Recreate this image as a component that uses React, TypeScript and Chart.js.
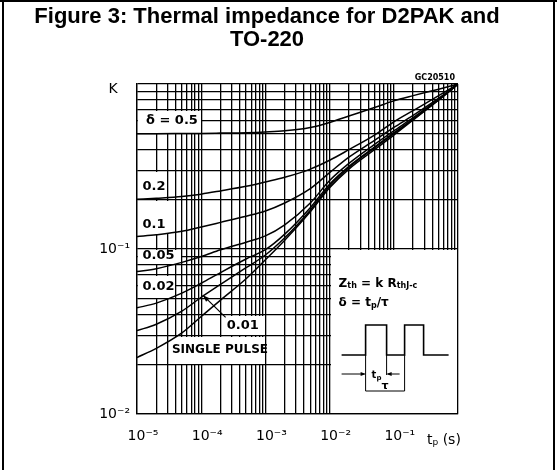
import React, { useEffect, useRef } from "react";
import { Chart, registerables } from "chart.js";

Chart.register(...registerables);

// ---- data ----
const tp = [1e-5, 2e-5, 5e-5, 1e-4, 2e-4, 5e-4, 1e-3, 2e-3, 5e-3, 1e-2, 2e-2, 5e-2, 1e-1, 2e-1, 5e-1, 1];
const kDelta05 = [0.5, 0.5, 0.501, 0.502, 0.504, 0.507, 0.512, 0.52, 0.545, 0.585, 0.64, 0.72, 0.79, 0.85, 0.93, 1];
const kDelta02 = [0.2, 0.203, 0.208, 0.215, 0.225, 0.24, 0.255, 0.272, 0.305, 0.345, 0.4, 0.49, 0.59, 0.69, 0.85, 1];
const kDelta01 = [0.119, 0.122, 0.128, 0.136, 0.145, 0.158, 0.17, 0.19, 0.232, 0.29, 0.36, 0.455, 0.545, 0.645, 0.82, 1];
const kDelta005 = [0.073, 0.076, 0.083, 0.09, 0.099, 0.11, 0.12, 0.14, 0.19, 0.26, 0.33, 0.43, 0.52, 0.625, 0.81, 1];
const kDelta002 = [0.044, 0.047, 0.054, 0.062, 0.072, 0.087, 0.099, 0.123, 0.178, 0.247, 0.317, 0.415, 0.505, 0.615, 0.805, 1];
const kDelta001 = [0.032, 0.035, 0.042, 0.051, 0.061, 0.077, 0.092, 0.117, 0.172, 0.241, 0.312, 0.41, 0.5, 0.61, 0.8, 1];
const kSingle = [0.022, 0.025, 0.031, 0.039, 0.049, 0.066, 0.086, 0.113, 0.168, 0.235, 0.305, 0.4, 0.49, 0.605, 0.8, 1];

const seriesNames = ["δ = 0.5", "0.2", "0.1", "0.05", "0.02", "0.01", "SINGLE PULSE"];
const seriesValues = [kDelta05, kDelta02, kDelta01, kDelta005, kDelta002, kDelta001, kSingle];

const xDecadeLabels = ["10⁻⁵", "10⁻⁴", "10⁻³", "10⁻²", "10⁻¹", ""];
const yDecadeLabels = ["10⁻²", "10⁻¹", ""];

const titleLines = ["Figure 3: Thermal impedance for D2PAK and", "TO-220"];

function logGrid(minExp: number, maxExp: number): number[] {
  const out: number[] = [];
  for (let e = minExp; e < maxExp; e++) {
    for (let m = 1; m <= 9; m++) out.push(m * Math.pow(10, e));
  }
  out.push(Math.pow(10, maxExp));
  return out;
}
const xGrid = logGrid(-5, 0);
const yGrid = logGrid(-2, 0);

function decadeIndex(v: number, minExp: number): number {
  const l = Math.log10(v);
  if (Math.abs(l - Math.round(l)) < 1e-6) return Math.round(l) - minExp;
  return -1;
}

const GRID_W = 1.3;

// ---- annotations (label boxes in data coords) ----
const labelBoxes = [
  { x0: 1e-5, x1: 1e-4, y0: 0.5, y1: 0.7 },
  { x0: 1e-5, x1: 3e-5, y0: 0.2, y1: 0.3 },
  { x0: 1e-5, x1: 4e-5, y0: 0.122, y1: 0.2 },
  { x0: 1e-5, x1: 5e-5, y0: 0.08, y1: 0.1 },
  { x0: 1e-5, x1: 4e-5, y0: 0.05, y1: 0.07 },
  { x0: 2e-4, x1: 1e-3, y0: 0.03, y1: 0.04 },
  { x0: 3e-5, x1: 1e-3, y0: 0.02, y1: 0.03 },
  { x0: 1e-2, x1: 1, y0: 0.01, y1: 0.1 },
];
const labelTexts = [
  { t: seriesNames[0], x: 1.38e-5, y: 0.6, f: 13 },
  { t: seriesNames[1], x: 1.22e-5, y: 0.24, f: 13 },
  { t: seriesNames[2], x: 1.22e-5, y: 0.14, f: 13 },
  { t: seriesNames[3], x: 1.22e-5, y: 0.0915, f: 13 },
  { t: seriesNames[4], x: 1.22e-5, y: 0.059, f: 13 },
  { t: seriesNames[5], x: 2.5e-4, y: 0.0345, f: 13 },
  { t: seriesNames[6], x: 3.5e-5, y: 0.0243, f: 12 },
];

function segText(ctx: CanvasRenderingContext2D, x: number, y: number, segs: [string, string, number][]) {
  let cx = x;
  for (const [t, f, dy] of segs) {
    ctx.font = f;
    ctx.fillText(t, cx, y + dy);
    cx += ctx.measureText(t).width;
  }
}

function arrowHead(ctx: CanvasRenderingContext2D, fx: number, fy: number, tx: number, ty: number, len: number, wid: number) {
  const a = Math.atan2(ty - fy, tx - fx);
  ctx.beginPath();
  ctx.moveTo(tx, ty);
  ctx.lineTo(tx - len * Math.cos(a) + wid * Math.sin(a), ty - len * Math.sin(a) - wid * Math.cos(a));
  ctx.lineTo(tx - len * Math.cos(a) - wid * Math.sin(a), ty - len * Math.sin(a) + wid * Math.cos(a));
  ctx.closePath();
  ctx.fill();
}

const annotPlugin = {
  id: "annot",
  beforeDatasetsDraw(chart: any) {
    const { ctx } = chart;
    const x = chart.scales.x;
    const y = chart.scales.y;
    const h = GRID_W / 2;
    ctx.save();
    ctx.fillStyle = "#fff";
    for (const b of labelBoxes) {
      const c1 = Math.round(x.getPixelForValue(b.x0) - h);
      const c2 = Math.round(x.getPixelForValue(b.x1) - h);
      const r1 = Math.round(y.getPixelForValue(b.y1) - h);
      const r2 = Math.round(y.getPixelForValue(b.y0) - h);
      ctx.fillRect(c1 + 2, r1 + 2, c2 - c1 - 2, r2 - r1 - 2);
    }
    ctx.restore();
  },
  afterDatasetsDraw(chart: any) {
    const { ctx } = chart;
    const x = chart.scales.x;
    const y = chart.scales.y;
    ctx.save();
    ctx.fillStyle = "#000";
    ctx.strokeStyle = "#000";
    ctx.textBaseline = "middle";
    ctx.textAlign = "left";
    for (const l of labelTexts) {
      ctx.font = `bold ${l.f}px "DejaVu Sans", sans-serif`;
      ctx.fillText(l.t, x.getPixelForValue(l.x), y.getPixelForValue(l.y));
    }
    // arrow to the 0.01 curve
    const ax0 = x.getPixelForValue(2.4e-4), ay0 = y.getPixelForValue(0.0385);
    const ax1 = x.getPixelForValue(1.06e-4), ay1 = y.getPixelForValue(0.0525);
    ctx.lineWidth = 1.2;
    ctx.beginPath();
    ctx.moveTo(ax0, ay0);
    ctx.lineTo(ax1, ay1);
    ctx.stroke();
    arrowHead(ctx, ax0, ay0, ax1, ay1, 7, 2.5);

    // inset
    const L = x.getPixelForValue(1e-2);
    const T = y.getPixelForValue(0.1);
    const SUB = 'bold 8px "DejaVu Sans", sans-serif';
    const MAIN = 'bold 12px "DejaVu Sans", sans-serif';
    ctx.textBaseline = "alphabetic";
    segText(ctx, L + 9, T + 38, [["Z", MAIN, 0], ["th", SUB, 1], [" = k R", MAIN, 0], ["thJ-c", SUB, 1]]);
    segText(ctx, L + 9, T + 57, [["δ = t", MAIN, 0], ["p", SUB, 2], ["/τ", MAIN, 0]]);
    ctx.lineWidth = 1.6;
    const base = T + 106, high = T + 76;
    ctx.beginPath();
    ctx.moveTo(L + 12, base);
    ctx.lineTo(L + 36, base);
    ctx.lineTo(L + 36, high);
    ctx.lineTo(L + 57, high);
    ctx.lineTo(L + 57, base);
    ctx.lineTo(L + 75, base);
    ctx.lineTo(L + 75, high);
    ctx.lineTo(L + 94, high);
    ctx.lineTo(L + 94, base);
    ctx.lineTo(L + 119, base);
    ctx.stroke();
    ctx.lineWidth = 1;
    const ay = T + 125, ty = T + 142;
    ctx.beginPath();
    ctx.moveTo(L + 12, ay); ctx.lineTo(L + 35, ay);
    ctx.moveTo(L + 70, ay); ctx.lineTo(L + 58, ay);
    ctx.moveTo(L + 36, base); ctx.lineTo(L + 36, ty);
    ctx.moveTo(L + 57, base); ctx.lineTo(L + 57, ay + 1);
    ctx.moveTo(L + 75, base); ctx.lineTo(L + 75, ty);
    ctx.moveTo(L + 36, ty); ctx.lineTo(L + 75, ty);
    ctx.stroke();
    arrowHead(ctx, L + 12, ay, L + 36, ay, 5, 2);
    arrowHead(ctx, L + 70, ay, L + 57, ay, 5, 2);
    segText(ctx, L + 42, T + 129, [["t", 'bold 10px "DejaVu Sans", sans-serif', 0], ["p", 'bold 7px "DejaVu Sans", sans-serif', 2]]);
    ctx.font = 'bold 11px "DejaVu Sans", sans-serif';
    ctx.fillText("τ", L + 52, T + 140);
    ctx.restore();
  },
  afterDraw(chart: any) {
    const { ctx } = chart;
    const x = chart.scales.x;
    const y = chart.scales.y;
    ctx.save();
    ctx.fillStyle = "#000";
    ctx.strokeStyle = "#000";
    // frame
    ctx.fillRect(2, 0, 2, 470);
    ctx.fillRect(0, 0, 557, 2);
    ctx.fillRect(553, 0, 2, 470);
    // title
    ctx.font = 'bold 22px "Liberation Sans", Arial, sans-serif';
    ctx.textAlign = "center";
    ctx.textBaseline = "alphabetic";
    ctx.fillText(titleLines[0], 267, 23);
    ctx.fillText(titleLines[1], 267, 46);
    // code
    ctx.font = 'bold 8px "DejaVu Sans", sans-serif';
    ctx.textAlign = "right";
    ctx.fillText("GC20510", x.right - 3, y.top - 4);
    // K
    ctx.font = '14px "DejaVu Sans", sans-serif';
    ctx.textAlign = "center";
    ctx.textBaseline = "middle";
    ctx.fillText("K", x.left - 24, y.top + 5);
    // tp (s)
    ctx.textAlign = "left";
    segText(ctx, x.right - 31, y.bottom + 26, [["t", '14px "DejaVu Sans", sans-serif', 0], ["p", '9px "DejaVu Sans", sans-serif', 3], [" (s)", '14px "DejaVu Sans", sans-serif', 0]]);
    ctx.restore();
  },
};

export default function App() {
  const ref = useRef<HTMLCanvasElement | null>(null);
  useEffect(() => {
    if (!ref.current) return;
    const chart = new Chart(ref.current, {
      type: "line",
      data: {
        datasets: seriesValues.map((vals, i) => ({
          label: seriesNames[i],
          data: tp.map((t, j) => ({ x: t, y: vals[j] })),
          borderColor: "#000",
          borderWidth: 1.5,
          pointRadius: 0,
          fill: false,
          cubicInterpolationMode: "monotone" as const,
        })),
      },
      options: {
        responsive: false,
        animation: false,
        events: [],
        layout: { padding: { left: 0, top: 84, right: 99, bottom: 0 } },
        plugins: { legend: { display: false }, tooltip: { enabled: false }, title: { display: false } },
        scales: {
          x: {
            type: "logarithmic",
            min: 1e-5,
            max: 1,
            afterBuildTicks: (s: any) => {
              s.ticks = xGrid.map((v) => ({ value: v }));
            },
            afterFit: (s: any) => {
              s.height = 56;
            },
            ticks: {
              autoSkip: false,
              maxRotation: 0,
              minRotation: 0,
              padding: 14,
              labelOffset: 6,
              color: "#000",
              font: { family: '"DejaVu Sans", sans-serif', size: 14 },
              callback: (v: any) => {
                const i = decadeIndex(Number(v), -5);
                return i >= 0 ? xDecadeLabels[i] : "";
              },
            },
            grid: { color: "#000", lineWidth: GRID_W, drawTicks: false },
            border: { display: true, color: "#000", width: GRID_W },
          },
          y: {
            type: "logarithmic",
            min: 0.01,
            max: 1,
            afterBuildTicks: (s: any) => {
              s.ticks = yGrid.map((v) => ({ value: v }));
            },
            afterFit: (s: any) => {
              s.width = 137;
            },
            ticks: {
              autoSkip: false,
              padding: 7,
              color: "#000",
              font: { family: '"DejaVu Sans", sans-serif', size: 14 },
              callback: (v: any) => {
                const i = decadeIndex(Number(v), -2);
                return i >= 0 ? yDecadeLabels[i] : "";
              },
            },
            grid: { color: "#000", lineWidth: GRID_W, drawTicks: false },
            border: { display: true, color: "#000", width: GRID_W },
          },
        },
      },
      plugins: [annotPlugin],
    });
    return () => chart.destroy();
  }, []);
  return (
    <div style={{ position: "fixed", left: 0, top: 0, width: 557, height: 470, background: "#fff" }}>
      <canvas ref={ref} width={557} height={470} style={{ display: "block" }} />
    </div>
  );
}
